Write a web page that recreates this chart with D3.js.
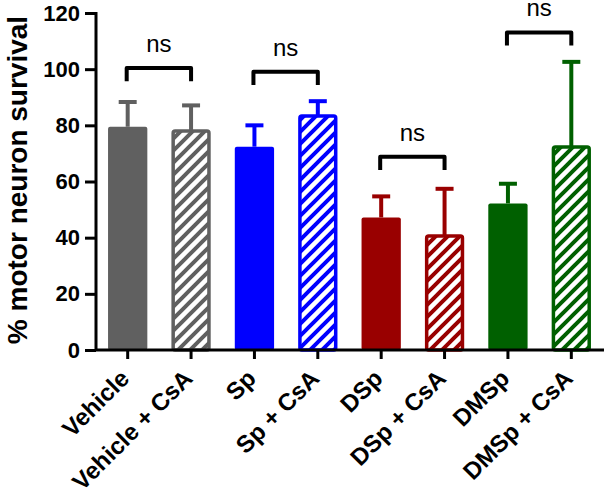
<!DOCTYPE html>
<html>
<head>
<meta charset="utf-8">
<script src="https://cdn.jsdelivr.net/npm/d3@7"></script>
<style>
  body { margin: 0; background: #fff; }
  svg text { font-family: "Liberation Sans", Arial, sans-serif; }
</style>
</head>
<body>
<svg id="chart" width="606" height="497"></svg>
<script>
var categories = ["Vehicle", "Vehicle + CsA", "Sp", "Sp + CsA", "DSp", "DSp + CsA", "DMSp", "DMSp + CsA"];
var means = [79.5, 78, 72.4, 83.3, 47.2, 40.6, 52.2, 72.3];
var upper = [88.3, 87.1, 80, 88.6, 54.7, 57.4, 59.2, 102.6];
var hatched = [false, true, false, true, false, true, false, true];
var colors = ["#606060", "#606060", "#0000ff", "#0000ff", "#990000", "#990000", "#006000", "#006000"];
var yTicks = [0, 20, 40, 60, 80, 100, 120];
// comparison brackets: [first, second, height, label]
var brackets = [
    ["Vehicle", "Vehicle + CsA", 100.4, "ns"],
    ["Sp", "Sp + CsA", 99.1, "ns"],
    ["DSp", "DSp + CsA", 68.8, "ns"],
    ["DMSp", "DMSp + CsA", 113.1, "ns"]
];
var legDrop = 4.7;

var svg = d3.select("#chart");
var x = d3.scaleBand().domain(categories).range([96, 603]).paddingInner(0.38).paddingOuter(0.19);
var y = d3.scaleLinear().domain([0, 120]).range([350, 13]);

var defs = svg.append("defs");
colors.forEach(function(c, i) {
    if (!hatched[i]) return;
    var p = defs.append("pattern")
        .attr("id", "hatch" + i)
        .attr("patternUnits", "userSpaceOnUse")
        .attr("width", 12).attr("height", 12);
    p.append("rect").attr("width", 12).attr("height", 12).attr("fill", "#fff");
    p.append("path")
        .attr("d", "M-3,15 L15,-3 M-9,9 L9,-9 M3,21 L21,3")
        .attr("stroke", c).attr("stroke-width", 4);
});

var data = categories.map(function(c, i) {
    return { name: c, mean: means[i], upper: upper[i], hatched: hatched[i], color: colors[i], i: i };
});

var sw = 3.5;
var bars = svg.append("g");
bars.selectAll("rect")
    .data(data)
    .enter()
    .append("rect")
    .attr("x", function(d) { return d.hatched ? x(d.name) + sw / 2 : x(d.name); })
    .attr("width", function(d) { return d.hatched ? x.bandwidth() - sw : x.bandwidth(); })
    .attr("y", function(d) { return y(d.mean); })
    .attr("height", function(d) { return y(0) - y(d.mean); })
    .attr("rx", 2)
    .attr("fill", function(d) { return d.hatched ? "url(#hatch" + d.i + ")" : d.color; })
    .attr("stroke", function(d) { return d.hatched ? d.color : "none"; })
    .attr("stroke-width", sw);

// error bars (upper only)
var err = svg.append("g");
err.selectAll("line.stem")
    .data(data)
    .enter()
    .append("line")
    .attr("class", "stem")
    .attr("x1", function(d) { return x(d.name) + x.bandwidth() / 2; })
    .attr("x2", function(d) { return x(d.name) + x.bandwidth() / 2; })
    .attr("y1", function(d) { return y(d.mean); })
    .attr("y2", function(d) { return y(d.upper); })
    .attr("stroke", function(d) { return d.color; })
    .attr("stroke-width", 4);
err.selectAll("line.cap")
    .data(data)
    .enter()
    .append("line")
    .attr("class", "cap")
    .attr("x1", function(d) { return x(d.name) + x.bandwidth() / 2 - 9; })
    .attr("x2", function(d) { return x(d.name) + x.bandwidth() / 2 + 9; })
    .attr("y1", function(d) { return y(d.upper); })
    .attr("y2", function(d) { return y(d.upper); })
    .attr("stroke", function(d) { return d.color; })
    .attr("stroke-width", 4);

// axes
var yAxis = d3.axisLeft(y).tickValues(yTicks).tickSize(11).tickPadding(5);
var gy = svg.append("g").attr("transform", "translate(96,0)").call(yAxis);
var xAxis = d3.axisBottom(x).tickSize(9).tickFormat("");
var gx = svg.append("g").attr("transform", "translate(0,350)").call(xAxis);

[gx, gy].forEach(function(g) {
    g.select(".domain").attr("stroke", "#000").attr("stroke-width", 3);
    g.selectAll(".tick line").attr("stroke", "#000").attr("stroke-width", 3);
});
gx.select(".domain").attr("d", "M96,0H604");
gy.select(".domain").attr("d", "M0,350V12");
gy.selectAll(".tick text")
    .attr("font-size", 22)
    .attr("font-weight", "bold")
    .attr("fill", "#000");

// rotated category labels
svg.append("g").selectAll("text")
    .data(categories)
    .enter()
    .append("text")
    .attr("transform", function(d) {
        return "translate(" + (x(d) + x.bandwidth() / 2 + 3) + ",380) rotate(-45)";
    })
    .attr("text-anchor", "end")
    .attr("font-size", 24)
    .attr("font-weight", "bold")
    .text(function(d) { return d; });

// y title
svg.append("text")
    .attr("transform", "translate(27,180) rotate(-90)")
    .attr("text-anchor", "middle")
    .attr("font-size", 28)
    .attr("font-weight", "bold")
    .text("% motor neuron survival");

// brackets
var br = svg.append("g");
brackets.forEach(function(b) {
    var x1 = x(b[0]) + x.bandwidth() / 2 - 1;
    var x2 = x(b[1]) + x.bandwidth() / 2;
    var yt = y(b[2]);
    var yb = y(b[2] - legDrop);
    br.append("path")
        .attr("d", "M" + x1 + "," + yb + "V" + yt + "H" + x2 + "V" + yb)
        .attr("fill", "none")
        .attr("stroke", "#000")
        .attr("stroke-width", 4)
        .attr("stroke-linejoin", "round");
    br.append("text")
        .attr("x", (x1 + x2) / 2)
        .attr("y", yt - 16)
        .attr("text-anchor", "middle")
        .attr("font-size", 24)
        .text(b[3]);
});
</script>
</body>
</html>
